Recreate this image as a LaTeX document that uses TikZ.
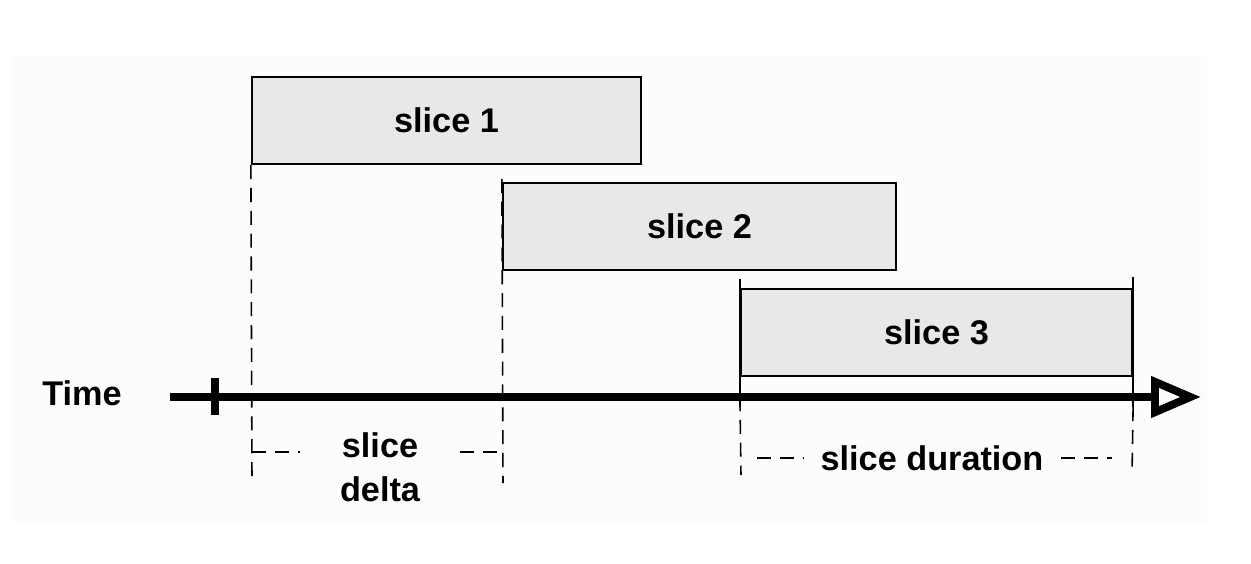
\documentclass[tikz,border=0pt]{standalone}
\usepackage{fontspec}
\setmainfont{Liberation Sans}
\usetikzlibrary{arrows.meta}

\tikzset{
  slicebox/.style={draw, line width=1.3pt, fill=black!9, minimum height=1.74cm,
    inner sep=0pt, font=\fontsize{19.5}{25}\selectfont\bfseries},
  lbl/.style={font=\fontsize{19.5}{25}\selectfont\bfseries, inner sep=1pt},
  guide/.style={line width=0.9pt, dash pattern=on 8pt off 5pt},
  axis/.style={line width=4.5pt},
}

\begin{document}
\begin{tikzpicture}[x=0.02cm, y=-0.02cm]
    \useasboundingbox (0,0) rectangle (1251,564);
    % fondo
    \fill[black!1] (12,56) rectangle (1207,522);

    % === Slices ===
    \node[slicebox, minimum width=7.78cm] (s1) at (446.5,120.5) {slice 1};
    \node[slicebox, minimum width=7.86cm] (s2) at (699.5,226.5) {slice 2};
    \node[slicebox, minimum width=7.82cm] (s3) at (936.5,332.5) {slice 3};

    % === Eje del tiempo ===
    \node[lbl] (time) at (82,393) {Time};
    \coordinate (t0) at (170,397);
    \coordinate (t1) at (1201,397);
    \coordinate (tick) at (215,397);
    \draw[axis, -{Triangle[open, length=1cm, width=0.8cm, line width=4.5pt]}] (t0) -- (t1);
    \draw[axis] ([yshift=0.38cm]tick) -- ([yshift=-0.36cm]tick);

    % === Guias ===
    \draw[guide] (s1.south west) -- (252,483);
    \draw[guide] ([yshift=0.06cm]s2.north west) -- (503,483);
    \draw[line width=1.1pt] ([yshift=0.18cm]s3.north west) -- (s3.south west |- t0);
    \draw[line width=1.1pt] ([yshift=0.22cm]s3.north east) -- ([yshift=-0.2cm]s3.east |- t0);
    \draw[guide] (s3.south west |- t0) -- (741,475);
    \draw[guide] ([yshift=-0.2cm]s3.east |- t0) -- (1132,475);

    % slice delta
    \node[lbl, align=center, inner xsep=0.8cm] (delta) at (380,467) {slice\\delta};
    \coordinate (d0) at (252,452);
    \coordinate (d1) at (497,452);
    \draw[guide] (d0) -- (delta.west |- d0);
    \draw[guide] (delta.east |- d1) -- (d1);

    % slice duration
    \node[lbl, inner xsep=0.35cm] (dur) at (932,458) {slice duration};
    \coordinate (u0) at (757,458);
    \coordinate (u1) at (1112,458);
    \draw[guide] (u0) -- (dur.west);
    \draw[guide] (dur.east) -- (u1);
\end{tikzpicture}
\end{document}
